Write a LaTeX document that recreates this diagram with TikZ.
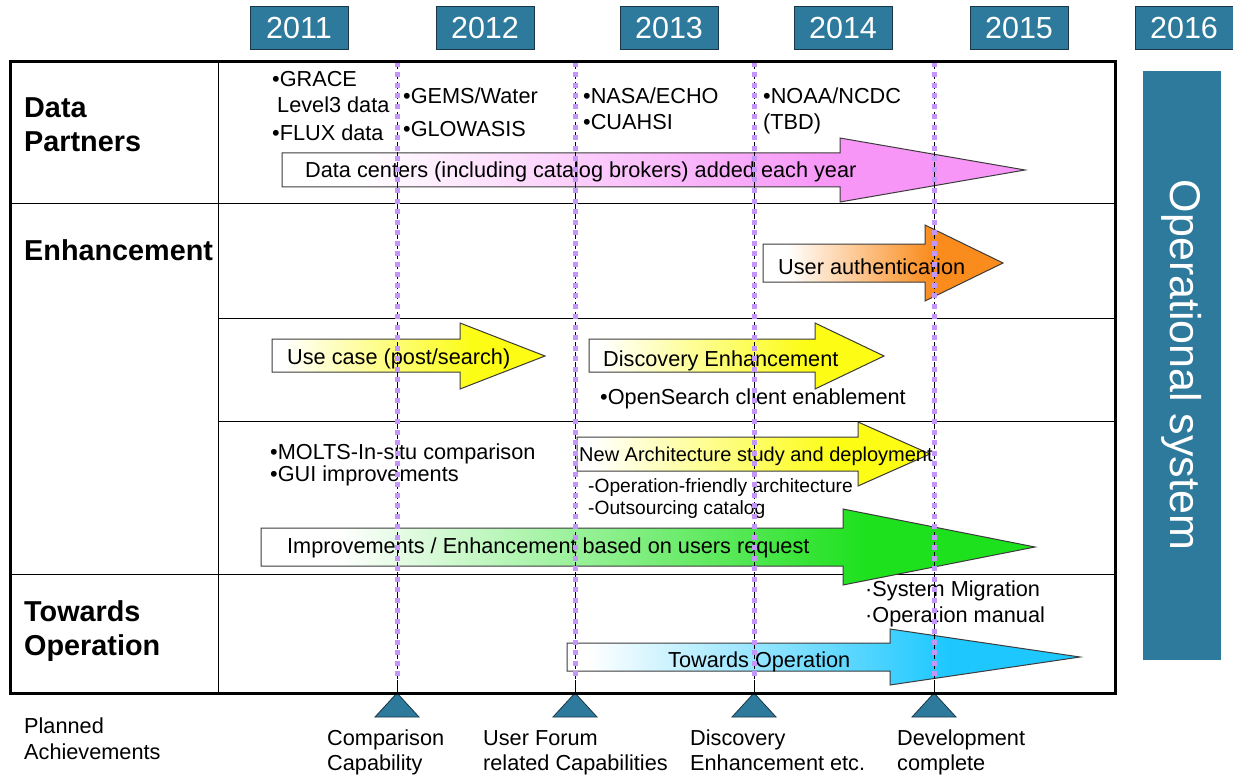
\documentclass[tikz,border=0pt]{standalone}
\usepackage{fontspec}
\setmainfont{Liberation Sans}
\definecolor{teal1}{RGB}{46,122,156}
\definecolor{tealedge}{RGB}{25,55,70}
\definecolor{apink}{RGB}{247,150,247}
\definecolor{aorange}{RGB}{250,140,30}
\definecolor{ayellow}{RGB}{252,252,20}
\definecolor{agreen}{RGB}{30,225,30}
\definecolor{ablue}{RGB}{30,200,255}
\definecolor{vpurple}{RGB}{195,150,250}
\definecolor{edgegray}{RGB}{60,60,60}
\pgfdeclarehorizontalshading{pinkfade}{100bp}{color(0bp)=(white); color(30bp)=(white); color(62bp)=(apink); color(100bp)=(apink)}
\pgfdeclarehorizontalshading{orangefade}{100bp}{color(0bp)=(white); color(30bp)=(white); color(60bp)=(aorange); color(100bp)=(aorange)}
\pgfdeclarehorizontalshading{yellowfade}{100bp}{color(0bp)=(white); color(27bp)=(white); color(62bp)=(ayellow); color(100bp)=(ayellow)}
\pgfdeclarehorizontalshading{greenfade}{100bp}{color(0bp)=(white); color(30bp)=(white); color(64bp)=(agreen); color(100bp)=(agreen)}
\pgfdeclarehorizontalshading{bluefade}{100bp}{color(0bp)=(white); color(27bp)=(white); color(62bp)=(ablue); color(100bp)=(ablue)}
\begin{document}
\begin{tikzpicture}[x=1pt,y=-1pt,
  yearbox/.style={draw=tealedge, line width=1pt, fill=teal1, minimum width=98pt, minimum height=43pt, text=white, inner sep=0pt, font=\fontsize{30.5}{36}\selectfont},
  txt/.style={inner sep=0pt, anchor=base west, font=\fontsize{21.7}{25}\selectfont},
  smalltxt/.style={inner sep=0pt, anchor=base west, font=\fontsize{19.2}{22}\selectfont},
  archtxt/.style={inner sep=0pt, anchor=base west, font=\fontsize{20}{24}\selectfont},
  rowlbl/.style={inner sep=0pt, anchor=base west, font=\bfseries\fontsize{28.8}{33}\selectfont},
  grid/.style={draw=black, line width=1pt},
  arrowline/.style={draw=edgegray, line width=1pt},
  blackdash/.style={draw=black, line width=1pt, dash pattern=on 7pt off 3pt},
  purpledot/.style={draw=vpurple, line width=5pt, dash pattern=on 5pt off 5.5pt},
  milestone/.style={draw=tealedge, line width=0.8pt, fill=teal1}
]
\useasboundingbox (0,0) rectangle (1233,778);
\fill[white] (0,0) rectangle (1233,778);

% year boxes
\node[yearbox] (y2011) at (299,28.5) {2011};
\node[yearbox] (y2012) at (485,28.5) {2012};
\node[yearbox] (y2013) at (669,28.5) {2013};
\node[yearbox] (y2014) at (843,28.5) {2014};
\node[yearbox] (y2015) at (1019,28.5) {2015};
\node[yearbox] (y2016) at (1184,28.5) {2016};

% operational system box
\node[fill=teal1, minimum width=78pt, minimum height=589pt, inner sep=0pt] (opbox) at (1182,365.5) {};
\node[rotate=-90, text=white, inner sep=0pt, font=\fontsize{43}{50}\selectfont] (optext) at (1182,365) {Operational system};

% grid
\coordinate (c1) at (218,62);
\coordinate (c2) at (218,693);
\draw[grid] (c1) -- (c2);
\coordinate (r1a) at (10,203);  \coordinate (r1b) at (1115,203);
\coordinate (r2a) at (218,318); \coordinate (r2b) at (1115,318);
\coordinate (r3a) at (218,421); \coordinate (r3b) at (1115,421);
\coordinate (r4a) at (10,574);  \coordinate (r4b) at (1115,574);
\draw[grid] (r1a) -- (r1b);
\draw[grid] (r2a) -- (r2b);
\draw[grid] (r3a) -- (r3b);
\draw[grid] (r4a) -- (r4b);

% row labels
\node[rowlbl] (lData) at (24,118) {Data};
\node[rowlbl] (lPart) at (24,152) {Partners};
\node[rowlbl] (lEnh) at (24,260) {Enhancement};
\node[rowlbl] (lTow) at (24,621) {Towards};
\node[rowlbl] (lOp) at (24,655) {Operation};

% data partners texts
\node[txt] (grace) at (272,87) {•GRACE};
\node[txt] (level3) at (277,113) {Level3 data};
\node[txt] (flux) at (272,141) {•FLUX data};
\node[txt] (gems) at (403,104) {•GEMS/Water};
\node[txt] (glow) at (403,137) {•GLOWASIS};
\node[txt] (nasa) at (583,104) {•NASA/ECHO};
\node[txt] (cuahsi) at (583,130) {•CUAHSI};
\node[txt] (noaa) at (763,104) {•NOAA/NCDC};
\node[txt] (tbd) at (763,130) {(TBD)};

% arrows
\shadedraw[shading=pinkfade, arrowline] (282,153) -- (840,153) -- (840,138) -- (1025,170) -- (840,202) -- (840,187) -- (282,187) -- cycle;
\node[txt] (aPink) at (305,178) {Data centers (including catalog brokers) added each year};

\shadedraw[shading=orangefade, arrowline] (763,244) -- (925,244) -- (925,225) -- (1003,263) -- (925,301) -- (925,282) -- (763,282) -- cycle;
\node[txt] (aOrange) at (778,274) {User authentication};

\shadedraw[shading=yellowfade, arrowline] (272,339) -- (460,339) -- (460,323) -- (545,356) -- (460,389) -- (460,372) -- (272,372) -- cycle;
\node[txt] (aUse) at (287,364) {Use case (post/search)};

\shadedraw[shading=yellowfade, arrowline] (589,339) -- (815,339) -- (815,323) -- (884,356) -- (815,389) -- (815,372) -- (589,372) -- cycle;
\node[txt] (aDisc) at (603,366) {Discovery Enhancement};
\node[txt] (openS) at (600,404) {•OpenSearch client enablement};

\node[txt] (molts) at (270,459) {•MOLTS-In-situ comparison};
\node[txt] (gui) at (270,481) {•GUI improvements};

\shadedraw[shading=yellowfade, arrowline] (577,437) -- (858,437) -- (858,422) -- (930,454) -- (858,486) -- (858,471) -- (577,471) -- cycle;
\node[archtxt] (aArch) at (579,461) {New Architecture study and deployment};
\node[smalltxt] (opfr) at (588,492) {-Operation-friendly architecture};
\node[smalltxt] (outs) at (588,514) {-Outsourcing catalog};

\shadedraw[shading=greenfade, arrowline] (261,528) -- (843,528) -- (843,509) -- (1035,547) -- (843,585) -- (843,566) -- (261,566) -- cycle;
\node[txt] (aGreen) at (287,553) {Improvements / Enhancement based on users request};

\node[txt] (sysm) at (865,596) {·System Migration};
\node[txt] (opman) at (865,622) {·Operation manual};

\shadedraw[shading=bluefade, arrowline] (567,643) -- (890,643) -- (890,629) -- (1080,657) -- (890,685) -- (890,671) -- (567,671) -- cycle;
\node[txt] (aBlue) at (668,667) {Towards Operation};

% milestone lines
\foreach \n/\x in {m1/397, m2/575, m3/754, m4/934} {
  \coordinate (\n t) at (\x,62);
  \coordinate (\n m) at (\x,680);
  \coordinate (\n b) at (\x,693);
  \draw[blackdash] (\n t) -- (\n m);
  \draw[purpledot] (\n t) -- (\n m);
  \draw[line width=1pt] (\n m) -- (\n b);
  \draw[milestone] (\n b) -- ++(22,24) -- ++(-44,0) -- cycle;
}

% frame
\draw[line width=3pt] (10,62) rectangle (1115,693);

% bottom labels
\node[txt] (plan1) at (24,733) {Planned};
\node[txt] (plan2) at (24,759) {Achievements};
\node[txt] (ms1a) at (327,745) {Comparison};
\node[txt] (ms1b) at (327,770) {Capability};
\node[txt] (ms2a) at (483,745) {User Forum};
\node[txt] (ms2b) at (483,770) {related Capabilities};
\node[txt] (ms3a) at (690,745) {Discovery};
\node[txt] (ms3b) at (690,770) {Enhancement etc.};
\node[txt] (ms4a) at (897,745) {Development};
\node[txt] (ms4b) at (897,770) {complete};
\end{tikzpicture}
\end{document}
